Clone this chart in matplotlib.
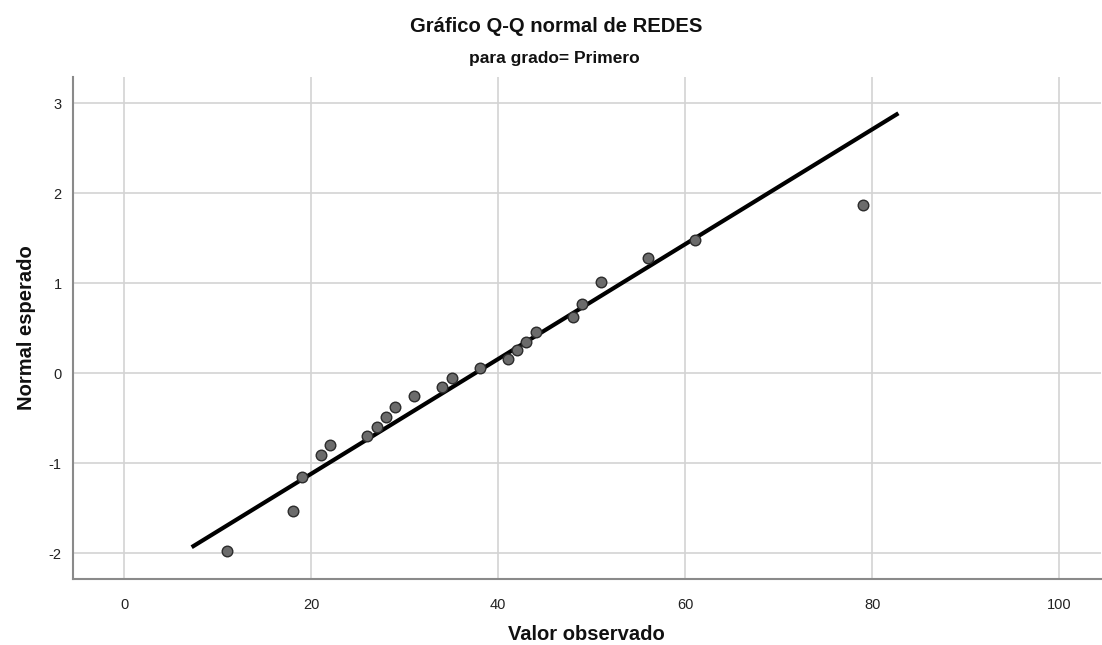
import matplotlib
matplotlib.use("Agg")
import matplotlib.pyplot as plt
import numpy as np

plt.rcParams['font.family'] = ['Liberation Sans', 'DejaVu Sans']
plt.rcParams['axes.unicode_minus'] = False

# Data
observed = [11, 18, 19, 21, 22, 26, 27, 28, 29, 31, 34, 35, 38, 41, 42, 43, 44, 48, 49, 51, 56, 61, 79]
expected = [-1.98, -1.53, -1.15, -0.91, -0.80, -0.70, -0.60, -0.49, -0.37, -0.25, -0.15, -0.05,
            0.06, 0.16, 0.26, 0.35, 0.46, 0.63, 0.77, 1.01, 1.28, 1.48, 1.87]
line_x = [7.2, 82.8]
line_mean = 37.5
line_sd = 15.68

x_ticks = [0, 20, 40, 60, 80, 100]
y_ticks = [-2, -1, 0, 1, 2, 3]

fig = plt.figure(figsize=(11.02, 6.45), dpi=100)
ax = fig.add_axes([0.066, 0.1023, 0.933, 0.7783])

ax.set_xlim(-5.52, 104.46)
ax.set_ylim(-2.286, 3.292)

ax.grid(True, color='#d3d3d3', linewidth=1.2, zorder=0)
ax.set_axisbelow(True)

lx = np.array(line_x)
ax.plot(lx, (lx - line_mean) / line_sd, color='black', linewidth=3.0,
        solid_capstyle='butt', zorder=3)
ax.scatter(observed, expected, s=58, facecolor='#6b6b6b', edgecolor='#2b2b2b',
           linewidth=1.0, zorder=4)

ax.set_xticks(x_ticks)
ax.set_yticks(y_ticks)
ax.tick_params(axis='both', length=0, labelsize=10.5, colors='#222222')
ax.tick_params(axis='x', pad=14)
ax.tick_params(axis='y', pad=8)

for s in ['top', 'right']:
    ax.spines[s].set_visible(False)
for s in ['left', 'bottom']:
    ax.spines[s].set_color('#8a8a8a')
    ax.spines[s].set_linewidth(1.5)

ax.set_xlabel('Valor observado', fontsize=14.5, fontweight='bold', labelpad=9, color='#111111')
ax.set_ylabel('Normal esperado', fontsize=14.5, fontweight='bold', labelpad=9, color='#111111')

fig.text(0.505, 1 - 26 / 645, 'Gráfico Q-Q normal de REDES', ha='center', va='center',
         fontsize=14.6, fontweight='bold', color='#111111')
fig.text(0.503, 1 - 59 / 645, 'para grado= Primero', ha='center', va='center',
         fontsize=12.5, fontweight='bold', color='#111111')

fig.savefig('out.png', dpi=100)
